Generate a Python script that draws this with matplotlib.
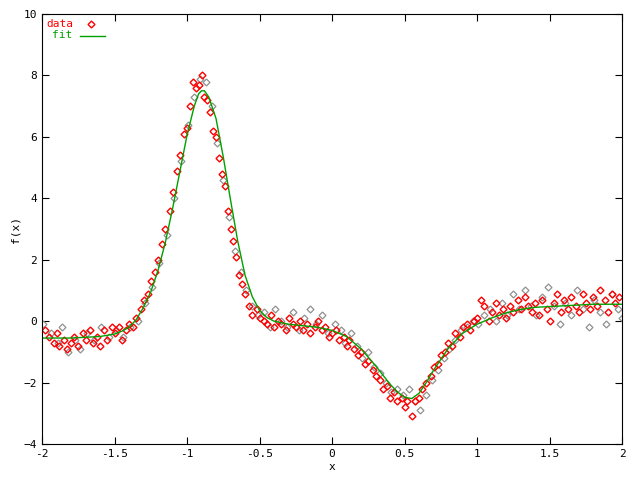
import matplotlib
matplotlib.use("Agg")
import matplotlib.pyplot as plt
import numpy as np

red = [(-1.98,-0.3),(-1.95,-0.5),(-1.92,-0.7),(-1.90,-0.4),(-1.88,-0.8),(-1.85,-0.6),(-1.83,-0.9),(-1.80,-0.7),(-1.78,-0.5),(-1.75,-0.8),(-1.72,-0.4),(-1.70,-0.6),(-1.67,-0.3),(-1.65,-0.7),(-1.62,-0.5),(-1.60,-0.8),(-1.57,-0.3),(-1.55,-0.6),(-1.52,-0.2),(-1.50,-0.4),(-1.47,-0.2),(-1.45,-0.6),(-1.42,-0.3),(-1.40,-0.1),(-1.37,-0.2),(-1.35,0.1),(-1.32,0.4),(-1.30,0.7),(-1.27,0.9),(-1.25,1.3),(-1.22,1.6),(-1.20,2.0),(-1.17,2.5),(-1.15,3.0),(-1.12,3.6),(-1.10,4.2),(-1.07,4.9),(-1.05,5.4),(-1.02,6.1),(-1.00,6.3),(-0.98,7.0),(-0.96,7.8),(-0.94,7.6),(-0.92,7.7),(-0.90,8.0),(-0.88,7.3),(-0.86,7.2),(-0.84,6.8),(-0.82,6.2),(-0.80,6.0),(-0.78,5.3),(-0.76,4.8),(-0.74,4.4),(-0.72,3.6),(-0.70,3.0),(-0.68,2.6),(-0.66,2.1),(-0.64,1.5),(-0.62,1.2),(-0.60,0.9),(-0.57,0.5),(-0.55,0.2),(-0.52,0.4),(-0.50,0.1),(-0.47,0.0),(-0.45,-0.1),(-0.42,0.2),(-0.40,-0.2),(-0.37,0.0),(-0.35,-0.1),(-0.32,-0.3),(-0.30,0.1),(-0.27,-0.1),(-0.25,-0.2),(-0.22,0.0),(-0.20,-0.3),(-0.17,-0.1),(-0.15,-0.4),(-0.12,-0.2),(-0.10,0.0),(-0.07,-0.3),(-0.05,-0.2),(-0.02,-0.5),(0.0,-0.4),(0.03,-0.3),(0.05,-0.6),(0.08,-0.5),(0.10,-0.8),(0.12,-0.6),(0.15,-0.9),(0.18,-1.1),(0.20,-1.0),(0.23,-1.4),(0.25,-1.3),(0.28,-1.6),(0.30,-1.8),(0.33,-1.9),(0.35,-2.2),(0.38,-2.1),(0.40,-2.5),(0.43,-2.3),(0.45,-2.6),(0.48,-2.5),(0.50,-2.8),(0.52,-2.6),(0.55,-3.1),(0.57,-2.6),(0.60,-2.5),(0.62,-2.2),(0.65,-2.0),(0.68,-1.8),(0.70,-1.5),(0.73,-1.4),(0.75,-1.1),(0.78,-1.0),(0.80,-0.7),(0.83,-0.8),(0.85,-0.4),(0.88,-0.5),(0.90,-0.2),(0.93,-0.1),(0.95,-0.3),(0.98,0.0),(1.00,0.1),(1.03,0.7),(1.05,0.5),(1.08,0.0),(1.10,0.3),(1.13,0.6),(1.15,0.2),(1.18,0.4),(1.20,0.1),(1.23,0.5),(1.25,0.3),(1.28,0.7),(1.30,0.4),(1.33,0.8),(1.35,0.5),(1.38,0.3),(1.40,0.6),(1.43,0.2),(1.45,0.7),(1.48,0.4),(1.50,0.0),(1.53,0.6),(1.55,0.9),(1.58,0.3),(1.60,0.7),(1.63,0.4),(1.65,0.8),(1.68,0.5),(1.70,0.3),(1.73,0.9),(1.75,0.6),(1.78,0.4),(1.80,0.8),(1.83,0.5),(1.85,1.0),(1.88,0.7),(1.90,0.3),(1.93,0.9),(1.95,0.6),(1.98,0.8)]

gray = [(-1.99,-0.1),(-1.94,-0.4),(-1.89,-0.7),(-1.86,-0.2),(-1.82,-1.0),(-1.77,-0.6),(-1.74,-0.9),(-1.69,-0.4),(-1.64,-0.6),(-1.59,-0.2),(-1.54,-0.5),(-1.49,-0.3),(-1.44,-0.5),(-1.39,-0.2),(-1.34,0.0),(-1.29,0.6),(-1.24,1.1),(-1.19,1.9),(-1.14,2.8),(-1.09,4.0),(-1.04,5.2),(-0.99,6.4),(-0.95,7.3),(-0.91,7.9),(-0.87,7.8),(-0.83,7.0),(-0.79,5.8),(-0.75,4.6),(-0.71,3.4),(-0.67,2.3),(-0.63,1.6),(-0.59,1.0),(-0.55,0.5),(-0.51,0.2),(-0.47,0.3),(-0.43,-0.2),(-0.39,0.4),(-0.35,0.0),(-0.31,-0.2),(-0.27,0.3),(-0.23,-0.3),(-0.19,0.1),(-0.15,0.4),(-0.11,-0.1),(-0.07,0.2),(-0.03,-0.4),(0.02,-0.1),(0.06,-0.3),(0.09,-0.7),(0.13,-0.4),(0.17,-0.8),(0.21,-1.2),(0.25,-1.0),(0.29,-1.5),(0.33,-1.7),(0.37,-2.0),(0.41,-2.3),(0.45,-2.2),(0.49,-2.4),(0.53,-2.2),(0.57,-2.6),(0.61,-2.9),(0.65,-2.4),(0.69,-1.9),(0.73,-1.6),(0.77,-1.2),(0.81,-0.9),(0.85,-0.6),(0.89,-0.3),(0.93,-0.2),(0.97,0.0),(1.01,-0.1),(1.05,0.2),(1.09,0.4),(1.13,0.0),(1.17,0.6),(1.21,0.2),(1.25,0.9),(1.29,0.4),(1.33,1.0),(1.37,0.5),(1.41,0.2),(1.45,0.8),(1.49,1.1),(1.53,0.5),(1.57,-0.1),(1.61,0.6),(1.65,0.2),(1.69,1.0),(1.73,0.4),(1.77,-0.2),(1.81,0.7),(1.85,0.3),(1.89,-0.1),(1.93,0.9),(1.97,0.4),(2.0,0.1)]

fit_x = [-2,-1.8,-1.6,-1.5,-1.45,-1.4,-1.35,-1.3,-1.25,-1.2,-1.15,-1.1,-1.05,-1.0,-0.95,-0.92,-0.9,-0.88,-0.85,-0.8,-0.75,-0.7,-0.65,-0.6,-0.55,-0.5,-0.45,-0.4,-0.3,-0.2,-0.1,0,0.1,0.2,0.3,0.4,0.45,0.5,0.55,0.6,0.65,0.7,0.8,0.9,1.0,1.1,1.2,1.3,1.4,1.6,1.8,2.0]
fit_y = [-0.55,-0.55,-0.5,-0.42,-0.33,-0.2,0.05,0.45,0.95,1.65,2.55,3.65,4.85,6.05,7.0,7.4,7.5,7.5,7.3,6.6,5.35,3.95,2.6,1.5,0.8,0.35,0.12,0.0,-0.1,-0.15,-0.2,-0.3,-0.5,-0.9,-1.45,-2.05,-2.3,-2.48,-2.52,-2.35,-2.0,-1.6,-0.9,-0.4,-0.1,0.1,0.27,0.38,0.45,0.5,0.55,0.55]

plt.rcParams['font.family'] = ['DejaVu Sans Mono']
fig = plt.figure(figsize=(6.4, 4.8), dpi=100)
ax = fig.add_axes([42/640, 1-444/480, 580/640, 430/480])
gx, gy = zip(*gray)
rx, ry = zip(*red)
ax.plot(gx, gy, 'D', ms=3.5, color='#909090', mfc='none', mew=0.9)
ax.plot(rx, ry, 'D', ms=3.5, color='red', mfc='none', mew=1)
ax.plot(fit_x, fit_y, '-', color='#00a000', lw=1)
ax.set_xlim(-2, 2); ax.set_ylim(-4, 10)
ax.set_xticks(np.arange(-2, 2.01, 0.5)); ax.set_yticks(range(-4, 11, 2))
ax.set_xticklabels(['-2','-1.5','-1','-0.5','0','0.5','1','1.5','2'])
ax.tick_params(direction='in', top=True, right=True, labelsize=8, length=5)
ax.set_xlabel('x', fontsize=8, labelpad=2)
ax.set_ylabel('f(x)', fontsize=8, labelpad=2)
ax.text(0.008, 0.977, 'data', transform=ax.transAxes, color='red', fontsize=8, va='center')
ax.plot([0.085], [0.977], 'D', ms=3.5, color='red', mfc='none', mew=1, transform=ax.transAxes, clip_on=False)
ax.text(0.018, 0.95, 'fit', transform=ax.transAxes, color='#00a000', fontsize=8, va='center')
ax.plot([0.065, 0.108], [0.95, 0.95], color='#00a000', lw=1, transform=ax.transAxes)
fig.savefig('out.png', dpi=100)
